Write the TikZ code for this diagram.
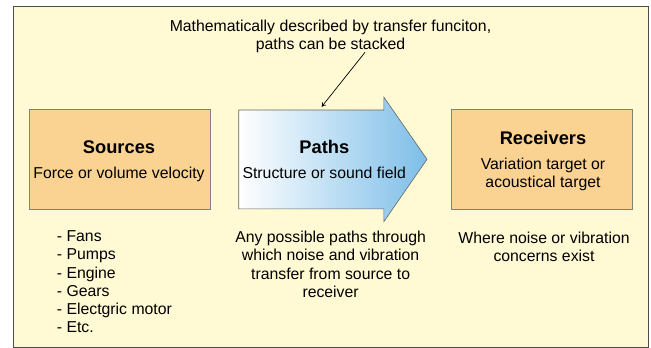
\documentclass[tikz,border=0pt]{standalone}
\usepackage{fontspec}
\setmainfont{Liberation Sans}
\usetikzlibrary{positioning, arrows.meta, calc}
\definecolor{nvhyellow}{RGB}{255,249,212}
\definecolor{nvhorange}{RGB}{250,210,145}
\definecolor{nvhblue}{RGB}{125,190,232}
\definecolor{nvhgray}{RGB}{128,128,128}
\tikzset{
    framestyle/.style={draw=black!70, fill=nvhyellow, line width=0.8pt},
    nvhbox/.style={rectangle, draw=nvhgray, fill=nvhorange, minimum width=181pt, minimum height=99.5pt, line width=0.6pt, inner sep=0pt},
    titlelbl/.style={font=\fontsize{18.3}{21}\selectfont\bfseries, inner sep=0pt, anchor=base},
    bodylbl/.style={font=\fontsize{15.8}{18.2}\selectfont, inner sep=0pt, anchor=base},
    desclbl/.style={font=\fontsize{15.8}{18.2}\selectfont, inner sep=0pt, align=center, anchor=north},
    pathshape/.style={draw=black!60, line width=0.6pt, left color=white, right color=nvhblue},
    ptr/.style={-{To[length=4pt,width=5pt]}, line width=0.7pt, black}
}

\begin{document}
\begin{tikzpicture}[x=1pt, y=-1pt]
        \useasboundingbox (0,0) rectangle (651,348);
        \draw[framestyle] (13.7,6.3) rectangle (648,347);

        % boxes
        \node[nvhbox] (sources) at (119.7,159.3) {};
        \node[nvhbox] (receivers) at (541.4,159.5) {};
        \draw[pathshape] (238.75,110) -- (383.8,110) -- (383.8,97) -- (427,159.3)
            -- (383.8,221.7) -- (383.8,208.8) -- (238.75,208.8) -- cycle;

        \node[titlelbl] (srctitle) at (119,153.3) {Sources};
        \node[bodylbl] (srcbody) at (119,178.2) {Force or volume velocity};
        \node[titlelbl] (pathtitle) at (324.4,153.3) {Paths};
        \node[bodylbl] (pathbody) at (324.2,178.2) {Structure or sound field};
        \node[titlelbl] (rcvtitle) at (543,144.3) {Receivers};
        \node[desclbl] (rcvbody) at (543,158) {Variation target or\\acoustical target};

        % notes
        \node[desclbl] (note) at (330.5,19.8) {Mathematically described by transfer funciton,\\paths can be stacked};
        \node[desclbl, align=left, anchor=north west] (srclist) at (56.7,230.7)
            {- Fans\\- Pumps\\- Engine\\- Gears\\- Electgric motor\\- Etc.};
        \node[desclbl] (pathdesc) at (330.6,231) {Any possible paths through\\which noise and vibration\\transfer from source to\\receiver};
        \node[desclbl] (rcvdesc) at (544,232) {Where noise or vibration\\concerns exist};

        \coordinate (ptrstart) at (365,52.3);
        \coordinate (ptrend) at (321.7,106.7);
        \draw[ptr] (ptrstart) -- (ptrend);
    \end{tikzpicture}
\end{document}
